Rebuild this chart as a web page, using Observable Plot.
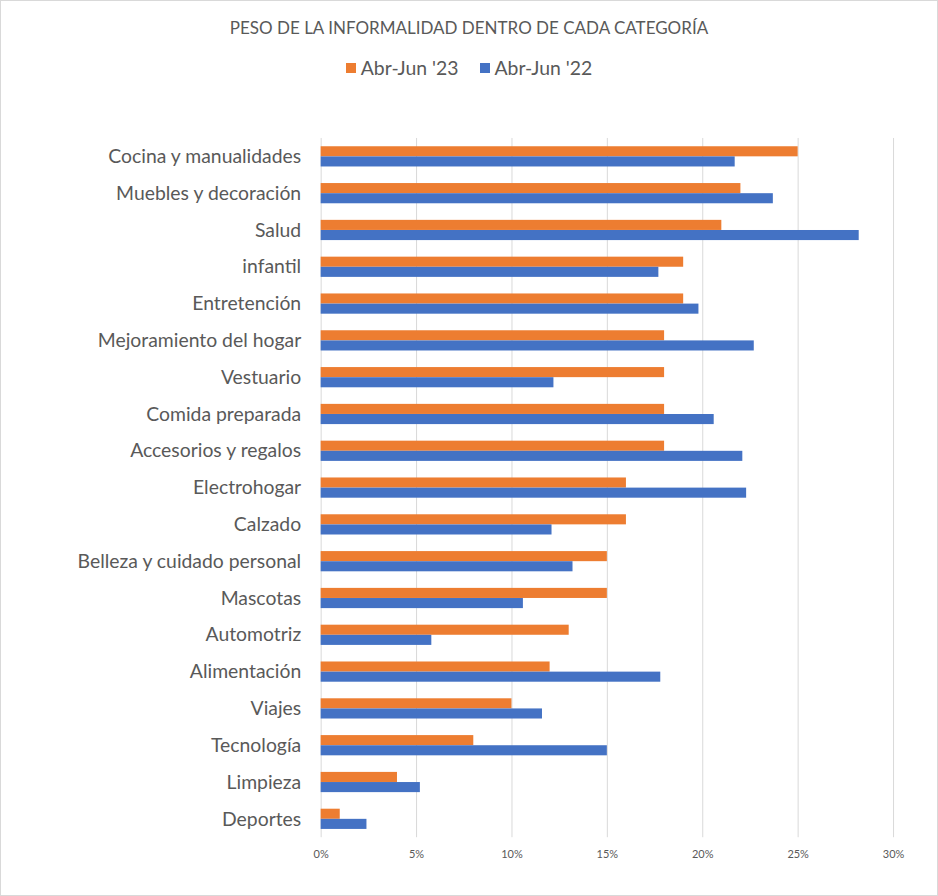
<!DOCTYPE html>
<html>
<head>
<meta charset="utf-8">
<script src="https://cdn.jsdelivr.net/npm/d3@7"></script>
<script src="https://cdn.jsdelivr.net/npm/@observablehq/plot@0.6"></script>
<style>
  body { margin: 0; background: #fff; font-family: Lato, "Open Sans", sans-serif; }
  #wrap { position: relative; width: 938px; height: 896px; box-sizing: border-box; border: 1px solid #d9d9d9; overflow: hidden; background: #fff; }
  #title { position: absolute; top: 16px; left: 0; width: 100%; text-align: center; font-size: 17px; color: #595959; }
  #legend { position: absolute; top: 55px; left: 0; width: 100%; display: flex; justify-content: center; gap: 21px; font-size: 19.4px; color: #595959; }
  .item { display: flex; align-items: center; gap: 5px; }
  .sw { width: 10px; height: 10px; display: inline-block; }
  #chart { position: absolute; top: 99px; left: -1px; }
  #chart svg { color: #595959; }
  #chart g[aria-label^="y-axis"] text { font-size: 19.4px; }
  #chart g[aria-label^="x-axis"] text { font-size: 11px; }
</style>
</head>
<body>
<div id="wrap">
  <div id="title"></div>
  <div id="legend"></div>
  <div id="chart"></div>
</div>
<script>
const categories = [
  "Cocina y manualidades", "Muebles y decoración", "Salud", "infantil", "Entretención",
  "Mejoramiento del hogar", "Vestuario", "Comida preparada", "Accesorios y regalos",
  "Electrohogar", "Calzado", "Belleza y cuidado personal", "Mascotas", "Automotriz",
  "Alimentación", "Viajes", "Tecnología", "Limpieza", "Deportes"
];
const series = ["Abr-Jun '23", "Abr-Jun '22"];
const colors = ["#ED7D31", "#4472C4"];
const values23 = [25, 22, 21, 19, 19, 18, 18, 18, 18, 16, 16, 15, 15, 13, 12, 10, 8, 4, 1];
const values22 = [21.7, 23.7, 28.2, 17.7, 19.8, 22.7, 12.2, 20.6, 22.1, 22.3, 12.1, 13.2, 10.6, 5.8, 17.8, 11.6, 15.0, 5.2, 2.4];
const xTicks = [0, 5, 10, 15, 20, 25, 30];
const titleText = "PESO DE LA INFORMALIDAD DENTRO DE CADA CATEGORÍA";

document.getElementById("title").textContent = titleText;
const legend = document.getElementById("legend");
series.forEach((s, i) => {
  const it = document.createElement("span");
  it.className = "item";
  const sw = document.createElement("span");
  sw.className = "sw";
  sw.style.background = colors[i];
  const t = document.createElement("span");
  t.textContent = s;
  it.appendChild(sw); it.appendChild(t);
  legend.appendChild(it);
});

const rows23 = categories.map((c, i) => ({category: c, series: series[0], value: values23[i]}));
const rows22 = categories.map((c, i) => ({category: c, series: series[1], value: values22[i]}));

const chart = Plot.plot({
  width: 938,
  height: 790,
  marginLeft: 321,
  marginRight: 44,
  marginTop: 38,
  marginBottom: 52,
  style: {fontFamily: "Lato, 'Open Sans', sans-serif", background: "transparent", overflow: "visible"},
  x: {domain: [0, 30], ticks: xTicks, tickFormat: d => d + "%", tickSize: 0, tickPadding: 12, label: null},
  y: {domain: categories, padding: 0, round: false, tickSize: 0, tickPadding: 20, label: null},
  color: {domain: series, range: colors},
  marks: [
    Plot.ruleX(xTicks, {x: d => d, stroke: "#d9d9d9", strokeWidth: 1}),
    Plot.barX(rows23, {x: "value", y: "category", fill: "series", insetTop: 8.3, insetBottom: 18.45}),
    Plot.barX(rows22, {x: "value", y: "category", fill: "series", insetTop: 18.45, insetBottom: 8.3})
  ]
});
document.getElementById("chart").appendChild(chart);
</script>
</body>
</html>
